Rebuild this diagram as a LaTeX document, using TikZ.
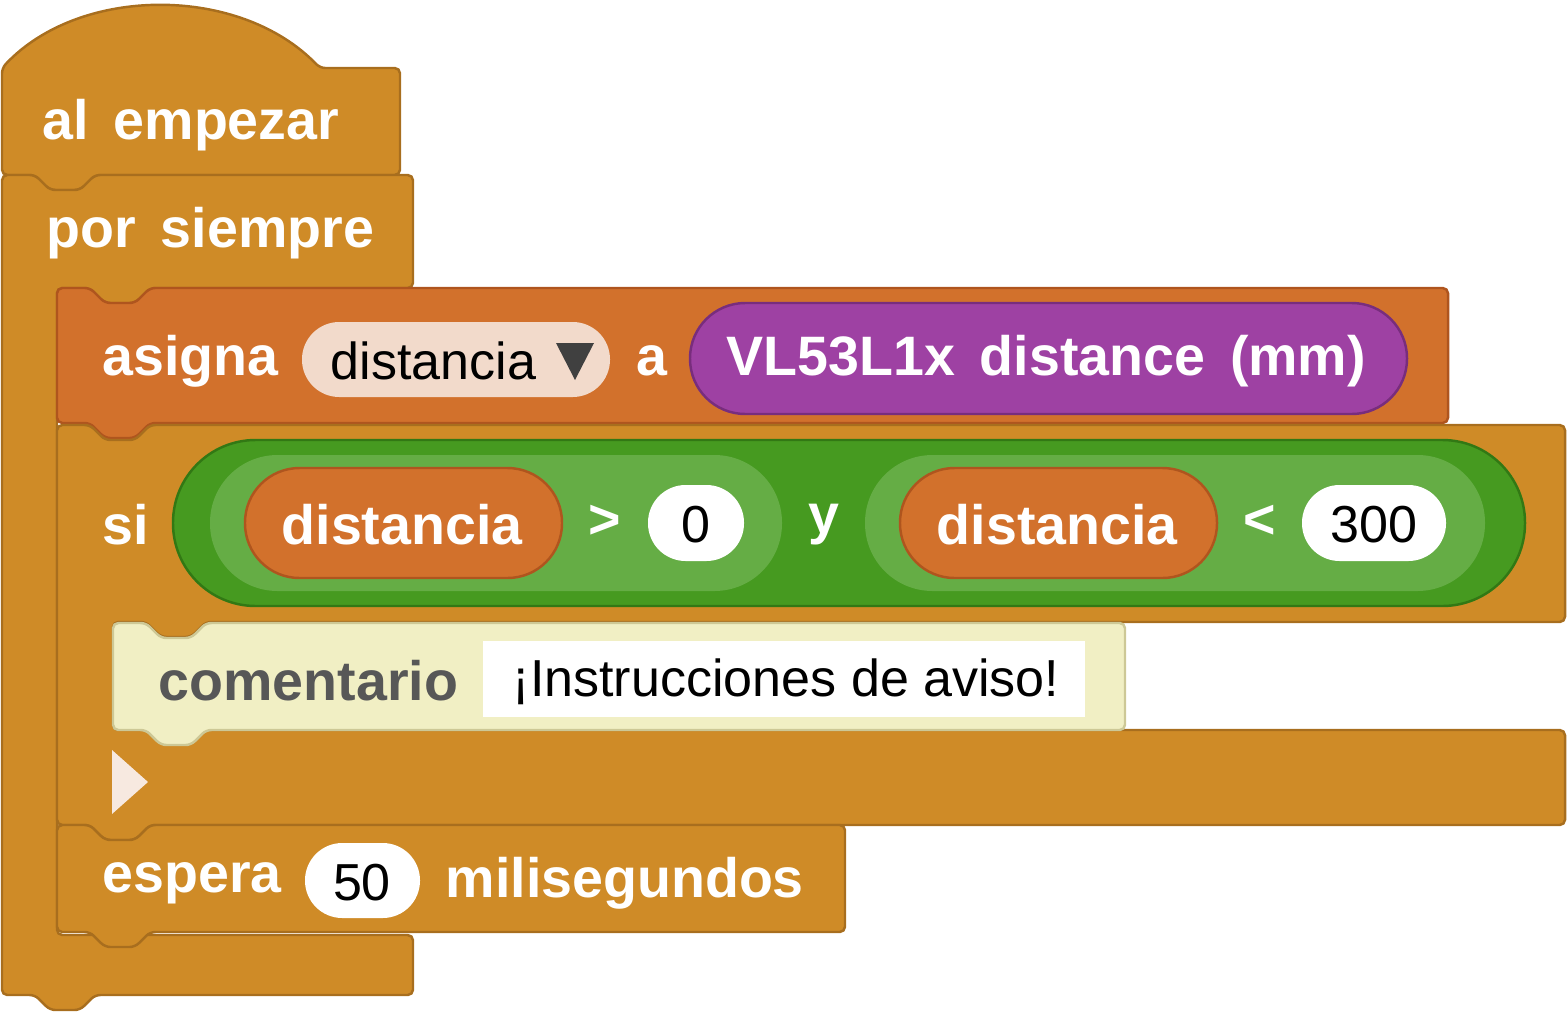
\documentclass[tikz,border=0pt]{standalone}
\usepackage{fontspec}
\setmainfont{Liberation Sans}
\definecolor{ctrl}{RGB}{207,139,39}
\definecolor{ctrlln}{RGB}{168,110,30}
\definecolor{varc}{RGB}{210,113,44}
\definecolor{varln}{RGB}{175,85,30}
\definecolor{purp}{RGB}{158,65,163}
\definecolor{purpln}{RGB}{120,45,125}
\definecolor{gdark}{RGB}{70,154,32}
\definecolor{gln}{RGB}{50,120,20}
\definecolor{glight}{RGB}{101,173,69}
\definecolor{drop}{RGB}{242,218,203}
\definecolor{cmnt}{RGB}{241,239,196}
\definecolor{cmntln}{RGB}{205,200,150}
\definecolor{cmtxt}{RGB}{87,87,87}
\tikzset{
  lbl/.style={anchor=west,inner sep=0pt,text=white,font=\fontsize{15.8}{19}\selectfont\bfseries},
  val/.style={inner sep=0pt,text=black,font=\fontsize{14.8}{18}\selectfont},
  blk/.style={rounded corners=1.5pt,line width=0.7pt},
}
% statement block: x, y, width, height, fill, line
\newcommand{\stmtblk}[6]{%
  \draw[blk,fill=#5,draw=#6] (#1,#2) -- ++(33,0) -- ++(15,15) -- ++(30,0) -- ++(15,-15)
    -- (#1+#3,#2) -- (#1+#3,#2+#4) -- (#1+93,#2+#4) -- ++(-15,15) -- ++(-30,0) -- ++(-15,-15)
    -- (#1,#2+#4) -- cycle;}
\begin{document}
\begin{tikzpicture}[x=0.01cm,y=-0.01cm]
\useasboundingbox (0,0) rectangle (1567,1012);
% hat
\draw[blk,fill=ctrl,draw=ctrlln] (2,68) .. controls (80,-15) and (240,-15) .. (320,68) -- (400,68)
  -- (400,175) -- (95,175) -- (80,190) -- (50,190) -- (35,175) -- (2,175) -- cycle;
\node[lbl] (hat) at (42,125) {al\, empezar};
% forever
\draw[blk,fill=ctrl,draw=ctrlln] (2,175) -- (35,175) -- (50,190) -- (80,190) -- (95,175) -- (413,175)
  -- (413,288) -- (150,288) -- (135,303) -- (105,303) -- (90,288) -- (57,288) -- (57,935)
  -- (413,935) -- (413,995) -- (95,995) -- (80,1010) -- (50,1010) -- (35,995) -- (2,995) -- cycle;
\node[lbl] (forever) at (46,233) {por\, siempre};
% asigna
\stmtblk{57}{288}{1391}{135}{varc}{varln}
\node[lbl] (asigna) at (102,361) {asigna};
\draw[fill=drop,draw=none,rounded corners=10.6pt] (302,322) rectangle (610,397);
\node[val,anchor=west] (dvar) at (330,361) {distancia};
\draw[fill=black!75,draw=none] (556,343) -- (594,343) -- (575,380) -- cycle;
\node[lbl] (a) at (636,361) {a};
\draw[fill=purp,draw=purpln,line width=0.7pt,rounded corners=15.7pt] (690,303) rectangle (1407,414);
\node[lbl] (sensor) at (726,361) {VL53L1x\, distance\, (mm)};
% si
\draw[blk,fill=ctrl,draw=ctrlln] (57,425) -- (90,425) -- (105,440) -- (135,440) -- (150,425) -- (1565,425)
  -- (1565,622) -- (206,622) -- (191,637) -- (161,637) -- (146,622) -- (113,622) -- (113,730)
  -- (1565,730) -- (1565,825) -- (150,825) -- (135,840) -- (105,840) -- (90,825) -- (57,825) -- cycle;
\node[lbl] (si) at (102,525) {si};
\draw[fill=gdark,draw=gln,line width=0.7pt,rounded corners=23.5pt] (173,440) rectangle (1525,606);
\draw[fill=glight,draw=none,rounded corners=19.2pt] (210,455) rectangle (782,591);
\draw[fill=glight,draw=none,rounded corners=19.2pt] (865,455) rectangle (1485,591);
\draw[fill=varc,draw=varln,line width=0.7pt,rounded corners=15.5pt] (245,468) rectangle (562,578);
\draw[fill=varc,draw=varln,line width=0.7pt,rounded corners=15.5pt] (900,468) rectangle (1217,578);
\node[lbl] (d1) at (281,525) {distancia};
\node[lbl] (d2) at (936,525) {distancia};
\node[lbl] (gt) at (588,522) {>};
\node[lbl] (lt) at (1243,522) {<};
\node[lbl] (y) at (808,525) {y};
\draw[fill=white,draw=none,rounded corners=10.7pt] (648,485) rectangle (744,561);
\draw[fill=white,draw=none,rounded corners=10.7pt] (1302,485) rectangle (1446,561);
\node[val] (zero) at (696,525) {0};
\node[val] (three) at (1374,525) {300};
\draw[fill=drop!60!white,draw=none] (112,750) -- (148,782) -- (112,814) -- cycle;
% comentario
\stmtblk{113}{623}{1012}{107}{cmnt}{cmntln}
\node[lbl,text=cmtxt] (cm) at (158,681) {comentario};
\fill[white] (483,641) rectangle (1085,717);
\node[val,anchor=west] (cmtext) at (512,682) {¡Instrucciones de aviso!};
% espera
\stmtblk{57}{825}{788}{107}{ctrl}{ctrlln}
\node[lbl] (espera) at (102,883) {espera};
\draw[fill=white,draw=none,rounded corners=10.6pt] (305,843) rectangle (420,918);
\node[val] (fifty) at (362,883) {50};
\node[lbl] (ms) at (445,883) {milisegundos};
\end{tikzpicture}
\end{document}
